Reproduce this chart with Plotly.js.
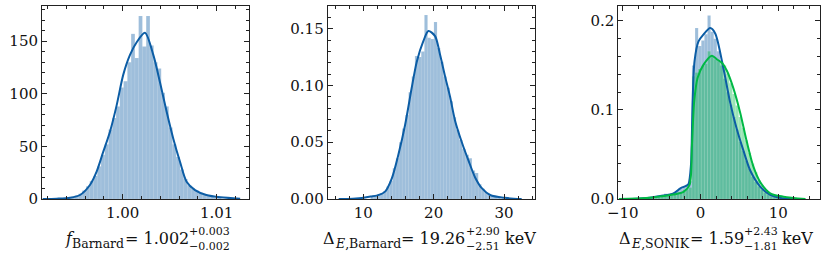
<!DOCTYPE html>
<html>
<head>
<meta charset="utf-8">
<script src="https://cdn.plot.ly/plotly-3.0.1.min.js"></script>
<style>html,body{margin:0;padding:0;background:#fff;}#chart{width:831px;height:261px;}</style>
</head>
<body>
<div id="chart"></div>
<script>
// ---------- Panel 1: f_Barnard ----------
const p1Centers = [0.9939,0.9943,0.9947,0.9951,0.9955,0.9959,0.9963,0.9967,0.9971,0.9975,0.9979,0.9983,0.9987,0.9991,0.9995,0.9999,1.0003,1.0007,1.0011,1.0015,1.0019,1.0023,1.0027,1.0031,1.0035,1.0039,1.0043,1.0047,1.0051,1.0055,1.0059,1.0063,1.0067,1.0071,1.0075,1.0079,1.0083,1.0087,1.0091,1.0095,1.0099,1.0103,1.0107];
const p1Counts = [1,1,2,3,5,8,12,17,22,31,42,52,66,77,88,106,112,130,157,134,174,145,174,146,130,124,101,88,68,52,40,28,19,13,10,8,6,4,3,2,1,1,0];
const p1KdeX = [0.9915,0.9930,0.9944,0.99546,0.99652,0.99723,0.99794,0.99865,0.99936,1.00006,1.00078,1.00149,1.00237,1.00326,1.00397,1.00468,1.00538,1.0061,1.0068,1.0077,1.0089,1.0104,1.0125];
const p1KdeY = [0,0.3,1.2,3.8,13.3,26,45,64,89,118,137,149,158,137,111,83,57.6,35.4,16.4,8.5,3.8,1.6,0.3];
const p1TickVals = [1.00,1.01];
const p1TickText = ['1.00','1.01'];
const p1Label = {name:'f', sub:'Barnard', value:'1.002', plus:'+0.003', minus:'\u22120.002', unit:''};

// ---------- Panel 2: Delta_E,Barnard ----------
const p2Centers = [11.26,11.71,12.16,12.61,13.06,13.51,13.96,14.41,14.86,15.31,15.76,16.21,16.66,17.11,17.56,18.01,18.46,18.91,19.36,19.81,20.26,20.71,21.16,21.61,22.06,22.51,22.96,23.41,23.86,24.31,24.76,25.21,25.66,26.11,26.56,27.01,27.46,27.91,28.36,28.81,29.26];
const p2Density = [0.002,0.003,0.004,0.005,0.007,0.011,0.016,0.027,0.036,0.050,0.062,0.074,0.094,0.108,0.126,0.125,0.130,0.162,0.142,0.141,0.156,0.133,0.121,0.108,0.098,0.086,0.072,0.061,0.052,0.044,0.039,0.036,0.025,0.023,0.013,0.009,0.006,0.004,0.003,0.002,0.001];
const p2KdeX = [6.5,8.5,10.0,11.0,11.9,13.09,14.04,14.98,15.93,16.88,17.6,18.53,19.25,20.2,20.91,21.62,22.33,23.04,24.0,24.94,25.89,26.84,28.02,30.15,32.5];
const p2KdeY = [0,0.0003,0.001,0.0022,0.003,0.0065,0.018,0.039,0.065,0.098,0.121,0.139,0.148,0.1435,0.127,0.108,0.090,0.069,0.050,0.034,0.019,0.0095,0.0035,0.001,0];
const p2Label = {name:'\u0394', sub:'Barnard', value:'19.26', plus:'+2.90', minus:'\u22122.51', unit:'keV'};

// ---------- Panel 3: Delta_E,SONIK ----------
const p3Centers = [-6.1,-5.7,-5.3,-4.9,-4.5,-4.1,-3.7,-3.3,-2.9,-2.5,-2.1,-1.7,-1.3,-0.9,-0.5,-0.1,0.3,0.7,1.1,1.5,1.9,2.3,2.7,3.1,3.5,3.9,4.3,4.7,5.1,5.5,5.9,6.3,6.7,7.1,7.5,7.9,8.3,8.7,9.1,9.5,9.9,10.3,10.7,11.1];
const p3BlueDensity = [0.001,0.002,0.003,0.004,0.006,0.005,0.006,0.008,0.010,0.012,0.014,0.016,0.020,0.150,0.192,0.172,0.178,0.185,0.206,0.188,0.180,0.166,0.150,0.135,0.120,0.106,0.092,0.078,0.064,0.054,0.043,0.034,0.025,0.019,0.014,0.010,0.007,0.005,0.003,0.002,0.001,0.001,0,0];
const p3GreenDensity = [0.001,0.001,0.002,0.003,0.004,0.004,0.005,0.006,0.007,0.008,0.010,0.011,0.013,0.138,0.142,0.146,0.150,0.152,0.166,0.160,0.157,0.155,0.155,0.150,0.141,0.130,0.118,0.105,0.092,0.080,0.066,0.052,0.040,0.030,0.021,0.015,0.010,0.007,0.005,0.004,0.003,0.002,0.002,0.001];
const p3BlueKdeX = [-10.2,-8,-6.5,-5.18,-3.47,-2.6,-1.8,-1.54,-1.23,-1.03,-0.77,-0.26,0.39,1.25,1.89,2.96,3.82,4.68,5.53,6.39,7.67,8.96,10.5,13];
const p3BlueKdeY = [0,0.0004,0.0015,0.0034,0.0064,0.012,0.015,0.017,0.038,0.106,0.155,0.177,0.185,0.192,0.186,0.146,0.108,0.078,0.054,0.032,0.014,0.0045,0.0008,0];
const p3GreenKdeX = [-10.5,-7,-5,-3.5,-2.18,-1.41,-1.1,-0.81,-0.38,0.39,1.46,2.1,2.75,3.39,4.24,5.1,5.96,6.81,7.67,8.96,10.67,13.5];
const p3GreenKdeY = [0,0.001,0.003,0.005,0.008,0.0158,0.061,0.110,0.136,0.151,0.161,0.157,0.153,0.144,0.124,0.097,0.064,0.036,0.019,0.0064,0.0026,0];
const p3Label = {name:'\u0394', sub:'SONIK', value:'1.59', plus:'+2.43', minus:'\u22121.81', unit:'keV'};

// ---------- styling ----------
const BLUE = '#0C5DA5', GREEN = '#00B945';
const BLUE_FILL = 'rgba(12,93,165,0.4)', GREEN_FILL = 'rgba(0,185,69,0.4)';
const EDGE = {color:'rgba(255,255,255,0.3)', width:0.3};
const FONT = 'DejaVu Serif';
const INK = '#111';
const W = 831, H = 261;
const px = x => x / W;
const py = y => 1 - y / H;

function bars(x, y, w, fill, xa, ya){
  return {type:'bar', x:x, y:y, width:w, xaxis:xa, yaxis:ya,
          marker:{color:fill, line:EDGE}, hoverinfo:'skip', showlegend:false};
}
function kde(x, y, c, xa, ya){
  return {type:'scatter', mode:'lines', x:x, y:y, xaxis:xa, yaxis:ya,
          line:{color:c, width:2, shape:'spline', smoothing:0.8}, hoverinfo:'skip', showlegend:false};
}

const data = [
  bars(p1Centers, p1Counts, 0.0004, BLUE_FILL, 'x', 'y'),
  kde(p1KdeX, p1KdeY, BLUE, 'x', 'y'),
  bars(p2Centers, p2Density, 0.45, BLUE_FILL, 'x2', 'y2'),
  kde(p2KdeX, p2KdeY, BLUE, 'x2', 'y2'),
  bars(p3Centers, p3BlueDensity, 0.4, BLUE_FILL, 'x3', 'y3'),
  bars(p3Centers, p3GreenDensity, 0.4, GREEN_FILL, 'x3', 'y3'),
  kde(p3BlueKdeX, p3BlueKdeY, BLUE, 'x3', 'y3'),
  kde(p3GreenKdeX, p3GreenKdeY, GREEN, 'x3', 'y3')
];

function ax(extra){
  return Object.assign({
    showline:true, linecolor:'#222', linewidth:1, mirror:'allticks',
    ticks:'inside', ticklen:5, tickwidth:1, tickcolor:'#222',
    showgrid:false, zeroline:false, fixedrange:true,
    tickfont:{family:FONT, size:15, color:INK}
  }, extra);
}
const yDom = [py(199), py(6)];

const layout = {
  width:W, height:H, margin:{l:0,r:0,t:0,b:0},
  paper_bgcolor:'#fff', plot_bgcolor:'#fff',
  font:{family:FONT},
  barmode:'overlay', bargap:0, showlegend:false,
  xaxis: ax({domain:[px(42), px(249)], range:[0.99142,1.01344], anchor:'y',
             tickmode:'array', tickvals:p1TickVals, ticktext:p1TickText,
             minor:{dtick:0.002, ticks:'inside', ticklen:3, tickcolor:'#222'}}),
  yaxis: ax({domain:yDom, range:[0,183.5], anchor:'x', dtick:50,
             minor:{dtick:10, ticks:'inside', ticklen:3, tickcolor:'#222'}}),
  xaxis2: ax({domain:[px(327.7), px(535)], range:[4.94,34.4], anchor:'y2', dtick:10,
             minor:{dtick:2, ticks:'inside', ticklen:3, tickcolor:'#222'}}),
  yaxis2: ax({domain:yDom, range:[0,0.170], anchor:'x2', dtick:0.05, tickformat:'.2f',
             minor:{dtick:0.01, ticks:'inside', ticklen:3, tickcolor:'#222'}}),
  xaxis3: ax({domain:[px(618.3), px(820)], range:[-10.57,15.36], anchor:'y3', dtick:10,
             minor:{dtick:2, ticks:'inside', ticklen:3, tickcolor:'#222'}}),
  yaxis3: ax({domain:yDom, range:[0,0.2168], anchor:'x3', dtick:0.1, tickformat:'.1f',
             minor:{dtick:0.02, ticks:'inside', ticklen:3, tickcolor:'#222'}}),
  annotations: []
};

// ---- axis labels built from pieces (main text + stacked super/subscripts) ----
const ctx = document.createElement('canvas').getContext('2d');
function tw(text, size, italic){
  ctx.font = (italic ? 'italic ' : '') + size + 'px "DejaVu Serif"';
  return ctx.measureText(text).width;
}
const M = 16, S = 12.5, SS = 11;   // main, name-subscript, error-script sizes
const BASE = 243.5, BASE_SUB = 248, BASE_SUP_ERR = 235, BASE_SUB_ERR = 250.5;

function piece(html, x, size, base){
  return {text:html, xref:'paper', yref:'paper', x:px(x), y:py(base - 0.33*size),
          xanchor:'left', yanchor:'middle', showarrow:false, borderpad:0, borderwidth:0,
          font:{family:FONT, size:size, color:INK}};
}
function buildLabel(L, center){
  const isDelta = L.name === '\u0394';
  const nameW = tw(L.name, M, !isDelta);
  const subHtml = isDelta ? '<i>E</i>,' + L.sub : L.sub;
  const subW = isDelta ? tw('E', S, true) + tw(',' + L.sub, S, false) : tw(L.sub, S, false);
  const eqText = '= ' + L.value;
  const eqW = tw(eqText, M, false) + 1;
  const errW = Math.max(tw(L.plus, SS, false), tw(L.minus, SS, false));
  const gap = L.unit ? tw(' ', M, false) : 0;
  const unitW = L.unit ? tw(L.unit, M, false) : 0;
  const total = nameW + 1 + subW + eqW + errW + gap + unitW;
  let x = center - total / 2;
  const out = [];
  out.push(piece(isDelta ? L.name : '<i>' + L.name + '</i>', x, M, BASE)); x += nameW + 1;
  out.push(piece(subHtml, x, S, BASE_SUB)); x += subW;
  out.push(piece(eqText, x + 1, M, BASE)); x += eqW;
  out.push(piece(L.plus, x, SS, BASE_SUP_ERR));
  out.push(piece(L.minus, x, SS, BASE_SUB_ERR)); x += errW + gap;
  if (L.unit) out.push(piece(L.unit, x, M, BASE));
  return out;
}
layout.annotations = [].concat(
  buildLabel(p1Label, 147.5),
  buildLabel(p2Label, 429),
  buildLabel(p3Label, 716)
);

Plotly.newPlot('chart', data, layout, {staticPlot:true, displayModeBar:false});
</script>
</body>
</html>
